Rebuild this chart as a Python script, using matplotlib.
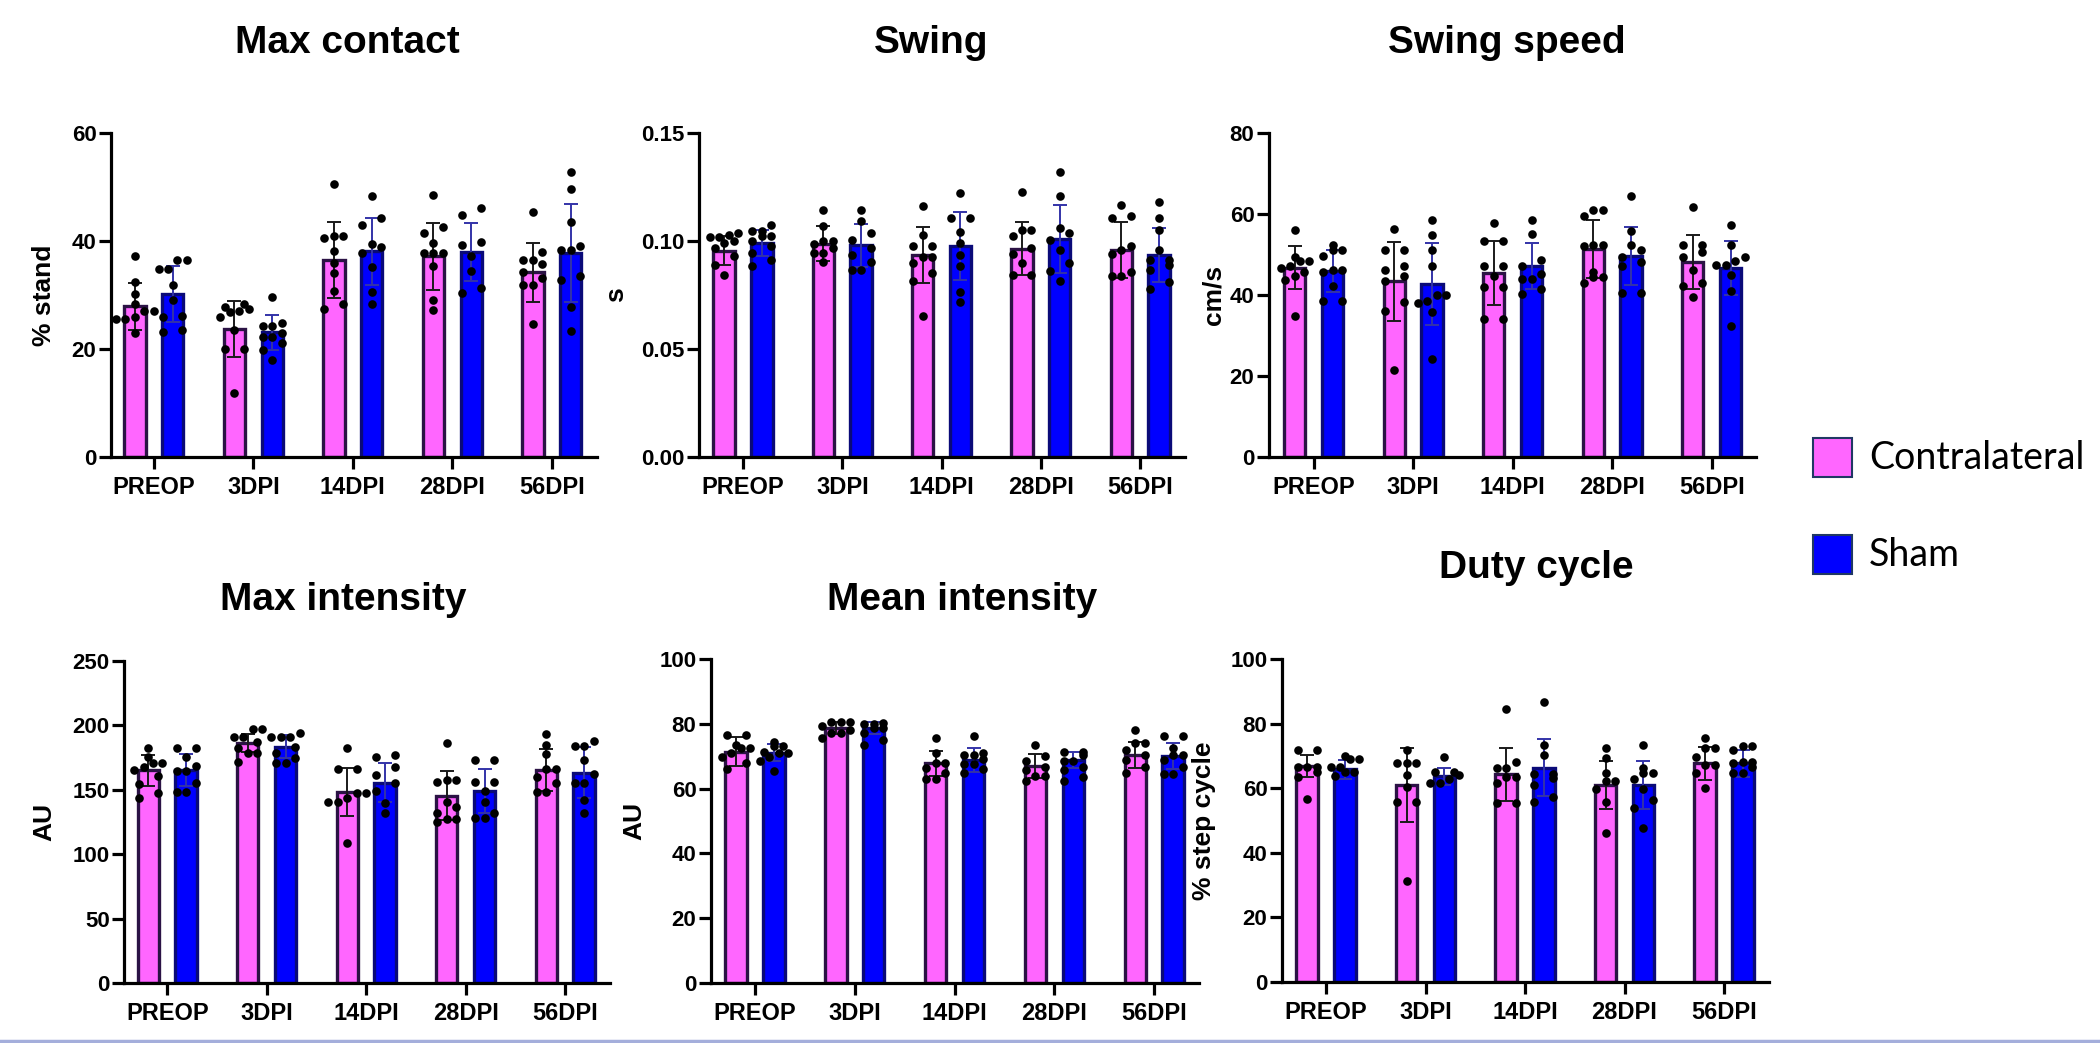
import matplotlib
matplotlib.use('Agg')
import matplotlib.pyplot as plt
from matplotlib.patches import Rectangle
from matplotlib.lines import Line2D
from matplotlib.ticker import FormatStrFormatter

plt.rcParams['font.family'] = ['Liberation Sans', 'DejaVu Sans']
plt.rcParams['font.weight'] = 'bold'

categories = ['PREOP', '3DPI', '14DPI', '28DPI', '56DPI']
groups = ['Contralateral', 'Sham']

# Max contact (% stand)
maxcontact_contra_mean = [27.9, 23.7, 36.5, 37.2, 34.2]
maxcontact_contra_sd = [4.3, 5.2, 7.1, 6.2, 5.5]
maxcontact_sham_mean = [30.2, 23.1, 38.1, 38.0, 37.8]
maxcontact_sham_sd = [5.2, 3.2, 6.2, 5.4, 9.1]
maxcontact_contra_pts = [
    [37.3, 32.4, 30.2, 28.4, 27.1, 27.1, 26.0, 25.6, 25.6, 23.0],
    [28.3, 27.8, 27.4, 27.0, 26.8, 25.9, 23.5, 20.0, 20.0, 11.9],
    [50.6, 40.9, 40.9, 40.5, 38.1, 35.9, 34.0, 30.8, 28.4, 27.4],
    [48.5, 42.6, 41.4, 39.6, 37.8, 37.8, 37.8, 35.4, 29.1, 27.3],
    [45.3, 37.9, 36.5, 36.5, 35.8, 34.2, 33.1, 31.9, 31.9, 24.7],
]
maxcontact_sham_pts = [
    [36.4, 36.4, 34.8, 34.8, 31.9, 29.1, 26.2, 26.0, 23.6, 23.1],
    [29.6, 24.9, 24.2, 24.2, 23.0, 22.2, 22.2, 21.2, 19.8, 18.0],
    [48.3, 44.3, 43.0, 39.5, 38.9, 37.7, 35.2, 30.6, 28.4],
    [46.1, 44.8, 39.9, 39.2, 37.2, 34.4, 31.3, 30.4],
    [52.7, 49.6, 43.6, 39.0, 38.4, 38.4, 33.5, 32.8, 27.8, 23.3],
]

# Swing (s)
swing_contra_mean = [0.0955, 0.0988, 0.0934, 0.0965, 0.0960]
swing_contra_sd = [0.0066, 0.0080, 0.0130, 0.0123, 0.0130]
swing_sham_mean = [0.0991, 0.0980, 0.0975, 0.1009, 0.0935]
swing_sham_sd = [0.0061, 0.0099, 0.0157, 0.0158, 0.0125]
swing_contra_pts = [
    [0.1037, 0.1030, 0.1019, 0.1019, 0.1000, 0.0991, 0.0968, 0.0929, 0.0887, 0.0844],
    [0.1145, 0.1071, 0.0998, 0.0998, 0.0988, 0.0968, 0.0944, 0.0944, 0.0901],
    [0.1164, 0.1029, 0.0975, 0.0975, 0.0926, 0.0926, 0.0898, 0.0852, 0.0813, 0.0654],
    [0.1228, 0.1052, 0.1052, 0.1021, 0.0968, 0.0941, 0.0898, 0.0844, 0.0844],
    [0.1168, 0.1117, 0.1106, 0.0975, 0.0960, 0.0941, 0.0855, 0.0837, 0.0837],
]
swing_sham_pts = [
    [0.1076, 0.1048, 0.1048, 0.1025, 0.1025, 0.0998, 0.0975, 0.0944, 0.0914, 0.0883],
    [0.1145, 0.1091, 0.1037, 0.1003, 0.0968, 0.0937, 0.0901, 0.0867, 0.0867],
    [0.1222, 0.1106, 0.1106, 0.1040, 0.0991, 0.0937, 0.0883, 0.0762, 0.0716],
    [0.1321, 0.1207, 0.1060, 0.1037, 0.1006, 0.0957, 0.0898, 0.0860, 0.0816],
    [0.1180, 0.1105, 0.1052, 0.0960, 0.0914, 0.0914, 0.0890, 0.0867, 0.0809, 0.0778],
]

# Swing speed (cm/s)
speed_contra_mean = [46.7, 43.4, 45.4, 51.4, 48.1]
speed_contra_sd = [5.3, 9.7, 7.9, 7.2, 6.6]
speed_sham_mean = [46.0, 42.7, 47.1, 49.7, 46.7]
speed_sham_sd = [5.2, 10.2, 5.7, 7.2, 6.6]
speed_contra_pts = [
    [56.1, 49.5, 48.3, 48.3, 47.2, 46.7, 45.6, 44.8, 43.8, 34.9],
    [56.4, 51.0, 51.0, 47.1, 46.1, 44.6, 43.4, 38.2, 36.0, 21.6],
    [57.8, 53.3, 53.3, 47.1, 47.1, 44.8, 42.0, 42.0, 34.1, 34.1],
    [61.1, 61.1, 59.6, 52.4, 52.4, 52.0, 45.8, 44.4, 44.4, 43.0],
    [61.7, 52.4, 52.4, 50.5, 49.5, 46.2, 43.0, 42.1, 39.4],
]
speed_sham_pts = [
    [52.4, 51.0, 51.0, 49.7, 46.1, 46.1, 45.7, 42.1, 38.4, 38.4],
    [58.6, 54.9, 51.2, 47.1, 40.1, 40.1, 38.6, 38.0, 35.7, 24.2],
    [58.4, 55.1, 48.6, 47.2, 45.3, 43.9, 43.9, 41.6, 40.2],
    [64.5, 55.7, 52.4, 51.0, 49.5, 48.1, 47.1, 40.5, 40.5],
    [57.2, 52.3, 49.5, 48.3, 47.5, 47.5, 44.9, 40.9, 32.3],
]

# Max intensity (AU)
maxint_contra_mean = [165.3, 186.7, 148.0, 145.4, 165.3]
maxint_contra_sd = [12.0, 7.0, 18.7, 19.0, 16.3]
maxint_sham_mean = [165.3, 183.4, 155.5, 149.0, 163.3]
maxint_sham_sd = [12.2, 9.0, 15.0, 16.8, 19.6]
maxint_contra_pts = [
    [182.6, 175.6, 170.5, 170.5, 168.0, 165.3, 160.7, 154.2, 147.2, 143.9],
    [197.1, 197.1, 191.1, 191.1, 187.3, 182.1, 178.2, 178.2, 171.8],
    [182.6, 166.1, 166.1, 147.2, 147.2, 143.4, 140.8, 140.8, 109.0],
    [186.5, 157.6, 157.6, 156.3, 140.8, 136.9, 132.2, 127.1, 127.1, 124.8],
    [193.0, 184.7, 177.7, 165.8, 165.8, 160.2, 155.0, 148.5, 148.5],
]
maxint_sham_pts = [
    [182.6, 182.6, 175.1, 168.7, 164.8, 164.8, 155.0, 148.5, 148.5],
    [194.2, 191.1, 191.1, 191.1, 182.9, 178.2, 174.4, 171.0, 171.0],
    [176.9, 175.1, 167.9, 161.4, 155.5, 149.3, 139.5, 132.2],
    [173.1, 173.1, 156.3, 156.3, 149.3, 140.8, 132.2, 127.9, 127.9],
    [188.0, 183.9, 183.9, 173.1, 162.0, 155.5, 155.5, 142.1, 131.7],
]

# Mean intensity (AU)
meanint_contra_mean = [71.4, 78.7, 67.8, 67.0, 70.4]
meanint_contra_sd = [4.4, 2.0, 3.8, 3.7, 4.0]
meanint_sham_mean = [71.1, 78.7, 68.9, 68.9, 70.1]
meanint_sham_sd = [2.6, 1.9, 3.7, 2.4, 3.9]
meanint_contra_pts = [
    [76.6, 76.6, 73.5, 72.5, 72.5, 71.1, 69.9, 67.8, 66.0],
    [80.7, 80.7, 80.7, 79.4, 78.1, 77.1, 77.1, 75.6],
    [75.6, 70.9, 67.8, 67.8, 66.3, 64.7, 62.9, 62.9],
    [73.5, 70.1, 68.4, 66.8, 65.6, 63.9, 63.9, 62.2],
    [78.1, 74.0, 74.0, 72.0, 70.4, 68.9, 66.8, 64.7],
]
meanint_sham_pts = [
    [74.5, 73.0, 73.0, 71.4, 70.9, 70.9, 69.9, 68.4, 65.3],
    [80.4, 80.0, 80.0, 78.7, 78.7, 77.1, 75.1, 73.5],
    [76.1, 71.1, 70.4, 70.4, 69.1, 67.6, 67.6, 66.0, 64.7],
    [71.4, 71.4, 70.4, 68.4, 68.4, 66.8, 65.6, 63.7, 62.2],
    [76.3, 76.3, 72.5, 70.4, 70.4, 68.9, 66.8, 64.5, 64.5],
]

# Duty cycle (% step cycle)
duty_contra_mean = [66.8, 61.0, 64.3, 61.0, 67.7]
duty_contra_sd = [3.4, 11.6, 8.3, 7.5, 5.1]
duty_sham_mean = [65.8, 63.7, 66.3, 61.0, 67.7]
duty_sham_sd = [2.9, 2.7, 8.8, 7.4, 4.1]
duty_contra_pts = [
    [71.8, 71.8, 66.6, 66.6, 66.6, 65.1, 63.5, 56.8],
    [71.8, 67.7, 67.7, 67.7, 64.0, 60.4, 55.8, 55.8, 31.3],
    [84.4, 68.2, 66.1, 66.1, 63.5, 63.5, 61.5, 55.3, 55.3],
    [72.5, 69.2, 64.6, 62.2, 62.2, 59.6, 55.8, 46.0],
    [75.4, 72.3, 72.3, 69.7, 67.1, 67.1, 64.6, 60.2],
]
duty_sham_pts = [
    [69.9, 68.9, 68.9, 66.6, 66.6, 65.1, 65.1, 63.7],
    [69.7, 65.1, 65.1, 64.0, 63.0, 61.5, 61.5],
    [86.8, 73.3, 70.2, 64.4, 64.4, 63.2, 61.0, 57.3, 55.8],
    [73.3, 66.4, 64.6, 64.6, 63.0, 59.9, 56.3, 54.0, 47.8],
    [73.0, 73.0, 71.8, 68.2, 68.2, 67.7, 66.6, 64.8, 64.8],
]

PINK, PINK_EDGE, PINK_ERR = '#FF66FF', '#2B1245', '#1A1A1A'
BLUE, BLUE_EDGE, BLUE_ERR = '#0000FF', '#0A0A78', '#3333A8'

W, H = 2100, 1043
fig = plt.figure(figsize=(W / 100, H / 100), dpi=100)


def swarm(vals, thr, step=0.095):
    # group near-equal values into rows, spread each row symmetrically
    order = sorted(range(len(vals)), key=lambda i: vals[i])
    offs = [0.0] * len(vals)
    row = []
    for i in order + [None]:
        if i is not None and row and abs(vals[i] - vals[row[0]]) < thr:
            row.append(i)
            continue
        k = len(row)
        for j, r in enumerate(row):
            offs[r] = (j - (k - 1) / 2) * (2 * step if k == 2 else step)
        row = [i] if i is not None else []
    return offs


def panel(box, title, title_xy, ylabel, ylabel_x, ymax, ystep,
          cm, csd, cpts, sm, ssd, spts, fmt=None):
    left, first, step, top, bottom = box
    lo = -(first - left) / step
    hi = 4.45
    width = (hi - lo) * step
    ax = fig.add_axes([left / W, 1 - bottom / H, width / W, (bottom - top) / H])
    ax.set_xlim(lo, hi)
    ax.set_ylim(0, ymax)
    ax.set_yticks([ystep * k for k in range(int(round(ymax / ystep)) + 1)])
    if fmt:
        ax.yaxis.set_major_formatter(FormatStrFormatter(fmt))
    xs = range(len(categories))
    for sign, mean, sd, pts, fc, ec, erc in [
            (-1, cm, csd, cpts, PINK, PINK_EDGE, PINK_ERR),
            (1, sm, ssd, spts, BLUE, BLUE_EDGE, BLUE_ERR)]:
        xp = [x + sign * 0.19 for x in xs]
        ax.bar(xp, mean, width=0.215, color=fc, edgecolor=ec, linewidth=2.4, zorder=2)
        ax.errorbar(xp, mean, yerr=sd, fmt='none', ecolor=erc, elinewidth=1.4,
                    capsize=5, capthick=1.4, zorder=3)
        for x, p in zip(xp, pts):
            offs = swarm(p, ymax * 0.028)
            ax.plot([x + o for o in offs], p, 'o', color='black', ms=6.2,
                    mec='none', zorder=4, clip_on=False)
    ax.set_xticks(list(xs))
    ax.set_xticklabels(categories)
    for s in ['top', 'right']:
        ax.spines[s].set_visible(False)
    for s in ['left', 'bottom']:
        ax.spines[s].set_linewidth(2.3)
    ax.tick_params(axis='both', width=2.3, length=8.5, color='black')
    ax.tick_params(axis='x', labelsize=17, pad=5)
    ax.tick_params(axis='y', labelsize=16, pad=2)
    for lab in ax.get_xticklabels() + ax.get_yticklabels():
        lab.set_fontweight('bold')
    ax.set_ylabel(ylabel, fontsize=19, fontweight='bold')
    # ylabel_x is the label centre in pixels; anchor is its right side
    ax.yaxis.set_label_coords((ylabel_x + 14 - left) / width, 0.5)
    fig.text(title_xy[0] / W, 1 - title_xy[1] / H, title, fontsize=28,
             fontweight='bold', ha='center', va='center')
    return ax


panel((111, 153.8, 99.5, 133, 457), 'Max contact', (347, 43), '% stand', 42, 60, 20,
      maxcontact_contra_mean, maxcontact_contra_sd, maxcontact_contra_pts,
      maxcontact_sham_mean, maxcontact_sham_sd, maxcontact_sham_pts)
panel((699, 743, 99.3, 133, 457), 'Swing', (931, 43), 's', 614, 0.15, 0.05,
      swing_contra_mean, swing_contra_sd, swing_contra_pts,
      swing_sham_mean, swing_sham_sd, swing_sham_pts, fmt='%.2f')
panel((1269, 1313.7, 99.5, 133, 457), 'Swing speed', (1507, 43), 'cm/s', 1212, 80, 20,
      speed_contra_mean, speed_contra_sd, speed_contra_pts,
      speed_sham_mean, speed_sham_sd, speed_sham_pts)
panel((124.4, 167.2, 99.5, 661, 983), 'Max intensity', (343, 600), 'AU', 42, 250, 50,
      maxint_contra_mean, maxint_contra_sd, maxint_contra_pts,
      maxint_sham_mean, maxint_sham_sd, maxint_sham_pts)
panel((711, 755, 99.8, 659, 983), 'Mean intensity', (962, 600), 'AU', 632, 100, 20,
      meanint_contra_mean, meanint_contra_sd, meanint_contra_pts,
      meanint_sham_mean, meanint_sham_sd, meanint_sham_pts)
panel((1282, 1326, 99.5, 659, 982), 'Duty cycle', (1536, 568), '% step cycle', 1202, 100, 20,
      duty_contra_mean, duty_contra_sd, duty_contra_pts,
      duty_sham_mean, duty_sham_sd, duty_sham_pts)

# legend on the right
for (label, fc, ytop) in [(groups[0], PINK, 438), (groups[1], BLUE, 535)]:
    fig.add_artist(Rectangle((1813 / W, 1 - (ytop + 39) / H), 39 / W, 39 / H,
                             facecolor=fc, edgecolor='#203864', linewidth=1.5,
                             transform=fig.transFigure))
    fig.text(1869 / W, 1 - (ytop + 20) / H, label, fontsize=27, family=['Lato', 'DejaVu Sans'],
             fontweight='normal', ha='left', va='center')

# thin border line along the bottom edge
fig.add_artist(Line2D([0, 1], [2 / H, 2 / H], transform=fig.transFigure,
                      color='#A4AEDB', linewidth=2.5))

fig.savefig('out.png', dpi=100, facecolor='white')
